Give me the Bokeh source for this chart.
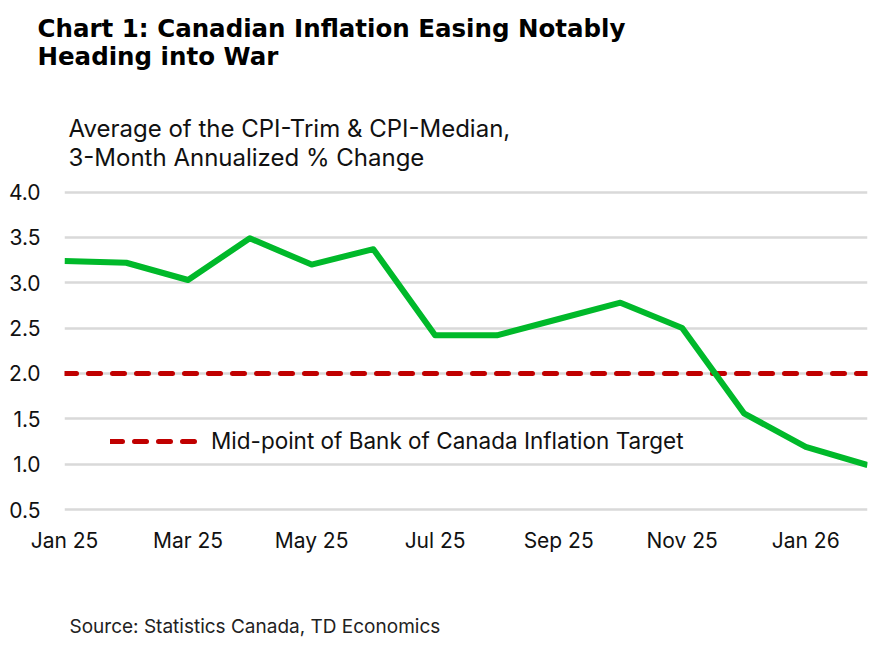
from bokeh.plotting import figure
from bokeh.layouts import column
from bokeh.models import (Label, Legend, LegendItem, FixedTicker, PrintfTickFormatter,
                          Title, Range1d)
from bokeh.core.validation import silence
from bokeh.core.validation.warnings import MISSING_RENDERERS
from bokeh.embed import file_html
from bokeh.resources import INLINE

silence(MISSING_RENDERERS, True)

# ---- data ----
months = ["Jan 25", "Feb 25", "Mar 25", "Apr 25", "May 25", "Jun 25", "Jul 25",
          "Aug 25", "Sep 25", "Oct 25", "Nov 25", "Dec 25", "Jan 26", "Feb 26"]
cpi_core = [3.24, 3.22, 3.03, 3.49, 3.20, 3.37, 2.42,
            2.42, 2.60, 2.78, 2.50, 1.56, 1.19, 0.99]
target = [2.0] * len(months)
y_ticks = [0.5, 1.0, 1.5, 2.0, 2.5, 3.0, 3.5, 4.0]
x_tick_idx = [0, 2, 4, 6, 8, 10, 12]

title_lines = ["Chart 1: Canadian Inflation Easing Notably", "Heading into War"]
subtitle_lines = ["Average of the CPI-Trim & CPI-Median,", "3-Month Annualized % Change"]
source_text = "Source: Statistics Canada, TD Economics"
legend_text = "Mid-point of Bank of Canada Inflation Target"

FONT = "Inter"
TFONT = "DejaVu Sans"
W = 868

# layout anchors (pixels)
FRAME_TOP, FRAME_BOTTOM, MAIN_H = 71, 512, 600
PX_PER_UNIT = (509 - 191.5) / 3.5
y_hi = 4.0 + (191.5 - FRAME_TOP) / PX_PER_UNIT
y_lo = 0.5 - (FRAME_BOTTOM - 509) / PX_PER_UNIT

# ---- main chart ----
x = list(range(len(months)))
p = figure(width=W, height=MAIN_H, output_backend="svg", toolbar_location=None,
           x_range=Range1d(0, len(months) - 1), y_range=Range1d(y_lo, y_hi),
           min_border_left=64, min_border_right=1, min_border_top=FRAME_TOP,
           min_border_bottom=MAIN_H - FRAME_BOTTOM)
p.outline_line_color = None
p.background_fill_color = "white"
p.border_fill_color = "white"

p.xgrid.grid_line_color = None
p.ygrid.grid_line_color = "#D9D9D9"
p.ygrid.grid_line_width = 2.5

p.yaxis.ticker = FixedTicker(ticks=y_ticks)
p.yaxis.formatter = PrintfTickFormatter(format="%.1f")
p.xaxis.ticker = FixedTicker(ticks=x_tick_idx)
p.xaxis.major_label_overrides = {i: months[i] for i in x_tick_idx}
for ax in (p.xaxis, p.yaxis):
    ax.axis_line_color = None
    ax.major_tick_line_color = None
    ax.minor_tick_line_color = None
    ax.major_tick_out = 0
    ax.major_tick_in = 0
    ax.minor_tick_out = 0
    ax.major_label_text_font = FONT
    ax.major_label_text_font_size = "21px"
    ax.major_label_text_color = "#111111"
p.yaxis.major_label_standoff = 24
p.xaxis.major_label_standoff = 15

tr = p.line(x, target, line_color="#C00000", line_width=5, line_dash="12 12", line_cap="round")
p.line(x, cpi_core, line_color="#00B92A", line_width=6, line_join="round")

legend = Legend(items=[LegendItem(label=legend_text, renderers=[tr])],
                location=(46, 58), orientation="vertical")
legend.glyph_width = 89
legend.glyph_height = 24
legend.label_height = 24
legend.label_standoff = 12
legend.padding = 0
legend.margin = 0
legend.spacing = 0
legend.border_line_color = None
legend.background_fill_alpha = 0
legend.label_text_font = FONT
legend.label_text_font_size = "22.5px"
legend.label_text_color = "#111111"
p.add_layout(legend, "center")

# title (two lines) above the frame
TITLE_FS = 24.5
title = Title(text="\n".join(title_lines), align="left", offset=-27, standoff=0,
              vertical_align="bottom", text_font=TFONT, text_font_style="bold",
              text_font_size=f"{TITLE_FS}px", text_color="#000000")
try:
    title.text_line_height = 28.5 / (TITLE_FS * 1.164)
except AttributeError:
    pass
p.add_layout(title, "above")

# subtitle inside the (extended) frame
for i, t in enumerate(subtitle_lines):
    p.add_layout(Label(x=68, y=128 + 29 * i, x_units="canvas", y_units="canvas", text=t,
                       text_font=FONT, text_font_size="24px",
                       text_color="#111111", text_baseline="alphabetic"))

# ---- bottom: source ----
bottom = figure(width=W, height=48, output_backend="svg", toolbar_location=None,
                x_axis_type=None, y_axis_type=None, x_range=(0, 1), y_range=(0, 1),
                min_border=0)
bottom.outline_line_color = None
bottom.background_fill_color = "white"
bottom.border_fill_color = "white"
bottom.add_layout(Label(x=69, y=26, x_units="canvas", y_units="canvas", text=source_text,
                        text_font=FONT, text_font_size="19px",
                        text_color="#222222", text_baseline="alphabetic"))

layout = column(p, bottom, spacing=0)
open("out.html", "w").write(file_html(layout, INLINE))
